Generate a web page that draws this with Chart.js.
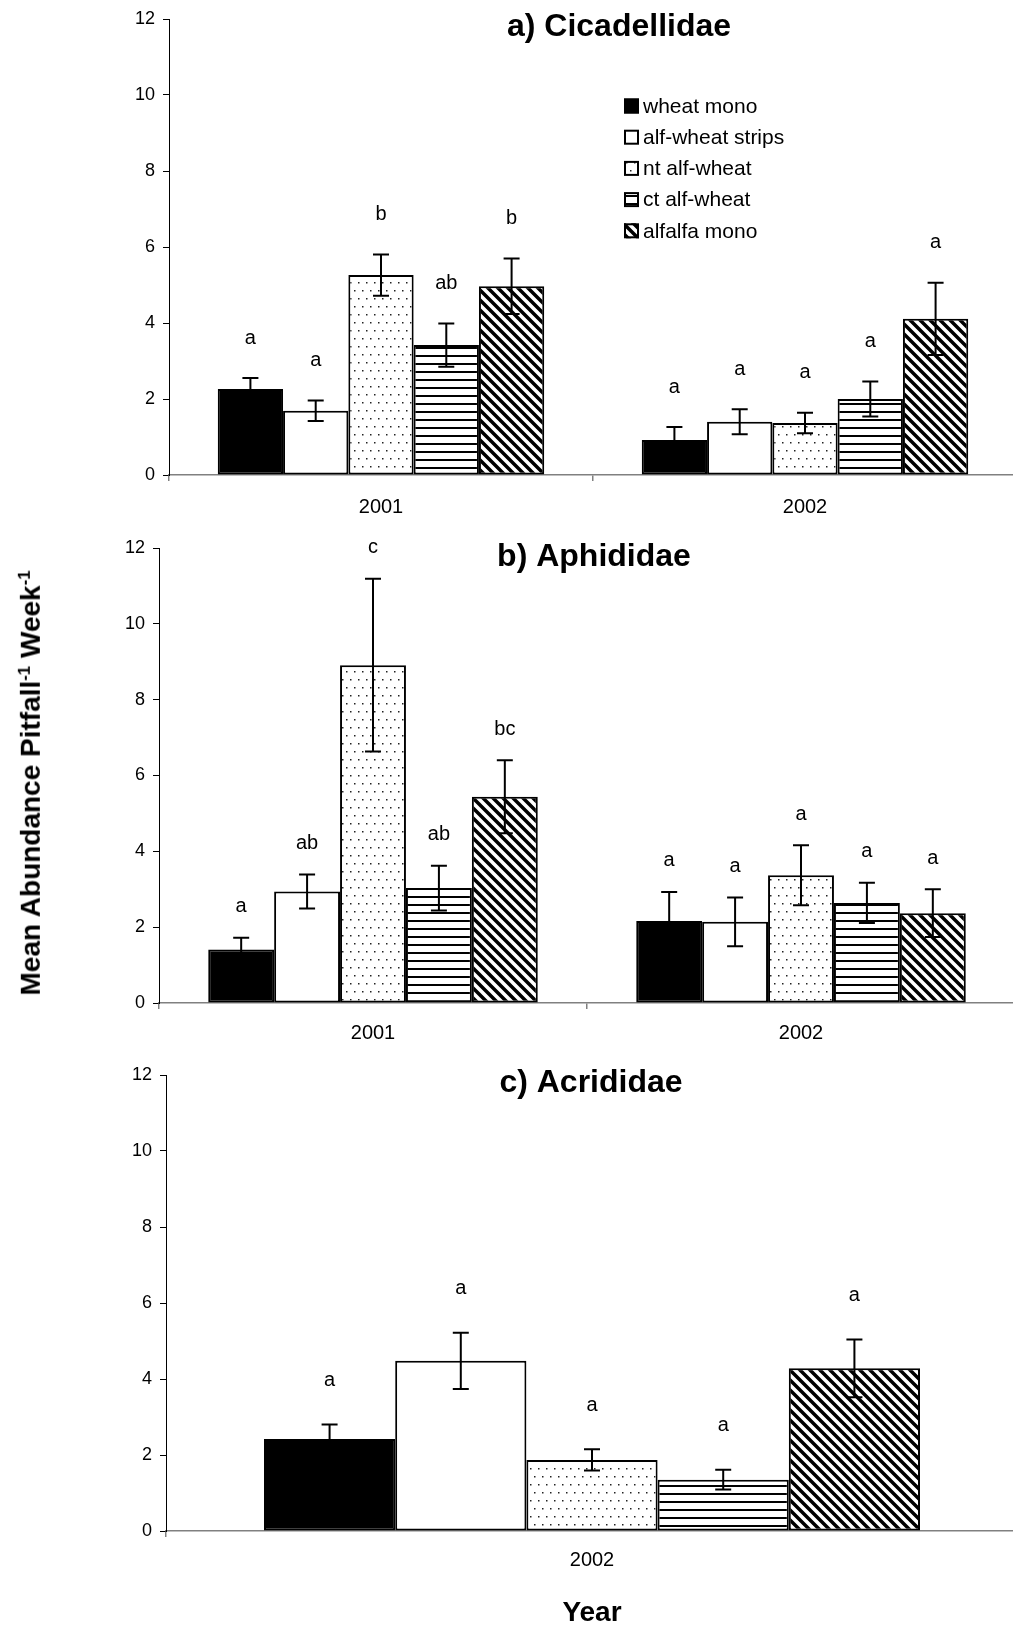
<!DOCTYPE html>
<html lang="en">
<head>
<meta charset="UTF-8">
<title>Mean Abundance Pitfall-1 Week-1</title>
<script src="https://cdn.jsdelivr.net/npm/chart.js"></script>
<style>
    body { margin: 0; background: #fff; }
    #page { position: relative; width: 1013px; height: 1630px; overflow: hidden; }
    #page canvas { position: absolute; left: 0; }
    #ytitle {
        position: absolute; left: 31px; top: 783px;
        transform: translate(-50%, -50%) rotate(-90deg);
        white-space: nowrap;
        font: bold 28px 'Liberation Sans', Arial, sans-serif;
        color: #000;
    }
    #ytitle sup { font-size: 60%; }
</style>
</head>
<body>
<div id="page">
    <canvas id="chartA" width="1020" height="525" style="top:0"></canvas>
    <canvas id="chartB" width="1020" height="525" style="top:525px"></canvas>
    <canvas id="chartC" width="1020" height="580" style="top:1050px"></canvas>
    <div id="ytitle">Mean Abundance Pitfall<sup>-1</sup> Week<sup>-1</sup></div>
</div>

<script>
// treatments (one dataset each)
const treatments = ['wheat mono', 'alf-wheat strips', 'nt alf-wheat', 'ct alf-wheat', 'alfalfa mono'];
const yearsAB = ['2001', '2002'];
const yearsC = ['2002'];
const yTicks = [0, 2, 4, 6, 8, 10, 12];

// a) Cicadellidae  [treatment][year]
const cicadMean = [[2.26, 0.92], [1.69, 1.40], [5.26, 1.37], [3.42, 2.00], [4.97, 4.11]];
const cicadErr = [[0.29, 0.34], [0.27, 0.33], [0.54, 0.27], [0.57, 0.46], [0.73, 0.95]];
const cicadLetters = [['a', 'a'], ['a', 'a'], ['b', 'a'], ['ab', 'a'], ['b', 'a']];

// b) Aphididae
const aphidMean = [[1.41, 2.16], [2.94, 2.14], [8.91, 3.37], [3.03, 2.64], [5.44, 2.37]];
const aphidErr = [[0.31, 0.77], [0.45, 0.64], [2.28, 0.79], [0.59, 0.53], [0.96, 0.63]];
const aphidLetters = [['a', 'a'], ['ab', 'a'], ['c', 'a'], ['ab', 'a'], ['bc', 'a']];

// c) Acrididae
const acridMean = [[2.42], [4.48], [1.87], [1.35], [4.28]];
const acridErr = [[0.38], [0.74], [0.28], [0.26], [0.76]];
const acridLetters = [['a'], ['a'], ['a'], ['a'], ['a']];

const FONT = "'Liberation Sans', Arial, sans-serif";
Chart.defaults.font.family = FONT;
Chart.defaults.color = '#000';

function makePattern(w, h, draw) {
    const c = document.createElement('canvas');
    c.width = w;
    c.height = h;
    const g = c.getContext('2d');
    g.fillStyle = '#fff';
    g.fillRect(0, 0, w, h);
    draw(g);
    return c.getContext('2d').createPattern(c, 'repeat');
}

const dots = makePattern(8, 16, g => {
    g.fillStyle = '#222';
    g.fillRect(2, 2, 1.5, 1.5);
    g.fillRect(6, 10, 1.5, 1.5);
});
const hlines = makePattern(8, 8, g => {
    g.fillStyle = '#000';
    g.fillRect(0, 3, 8, 2);
});
const diag = makePattern(10, 10, g => {
    g.strokeStyle = '#000';
    g.lineWidth = 3.5;
    g.beginPath();
    g.moveTo(-5, -5); g.lineTo(15, 15);
    g.moveTo(-15, -5); g.lineTo(5, 15);
    g.moveTo(5, -5); g.lineTo(25, 15);
    g.stroke();
});
const fills = ['#000', '#fff', dots, hlines, diag];

const overlayPlugin = {
    id: 'overlay',
    afterDatasetsDraw(chart, args, opts) {
        const ctx = chart.ctx;
        const y = chart.scales.y;
        ctx.save();
        ctx.strokeStyle = '#000';
        ctx.lineWidth = 2;
        ctx.fillStyle = '#000';
        ctx.font = '20px ' + FONT;
        ctx.textAlign = 'center';
        ctx.textBaseline = 'middle';
        chart.data.datasets.forEach((ds, i) => {
            chart.getDatasetMeta(i).data.forEach((bar, j) => {
                const v = ds.data[j];
                const e = opts.errors[i][j];
                const top = y.getPixelForValue(v + e);
                const bot = y.getPixelForValue(v - e);
                ctx.beginPath();
                ctx.moveTo(bar.x, top); ctx.lineTo(bar.x, bot);
                ctx.moveTo(bar.x - 8, top); ctx.lineTo(bar.x + 8, top);
                ctx.moveTo(bar.x - 8, bot); ctx.lineTo(bar.x + 8, bot);
                ctx.stroke();
                ctx.fillText(opts.letters[i][j], bar.x, top - opts.letterGap);
            });
        });
        // panel title
        ctx.font = 'bold 32px ' + FONT;
        ctx.fillText(opts.title, opts.titleX, opts.titleY);
        // legend
        if (opts.legend) {
            ctx.font = '21px ' + FONT;
            ctx.textAlign = 'left';
            chart.data.datasets.forEach((ds, i) => {
                const cy = opts.legend.y + i * opts.legend.step;
                ctx.fillStyle = ds.backgroundColor;
                ctx.fillRect(opts.legend.x, cy - 7.5, 15, 15);
                ctx.lineWidth = 2;
                ctx.strokeRect(opts.legend.x + 1, cy - 6.5, 13, 13);
                ctx.fillStyle = '#000';
                ctx.fillText(ds.label, opts.legend.x + 19, cy + 1);
            });
        }
        ctx.restore();
    }
};

function buildChart(id, labels, means, errs, letters, cfg) {
    return new Chart(document.getElementById(id), {
        type: 'bar',
        data: {
            labels: labels,
            datasets: treatments.map((t, i) => ({
                label: t,
                data: means[i],
                backgroundColor: fills[i],
                borderColor: '#000',
                borderWidth: 2,
                borderSkipped: false,
                categoryPercentage: 0.77,
                barPercentage: 1.0
            }))
        },
        options: {
            responsive: false,
            animation: false,
            devicePixelRatio: 1,
            layout: { padding: { left: 0, top: cfg.top, right: cfg.right, bottom: 0 } },
            plugins: {
                legend: { display: false },
                tooltip: { enabled: false },
                overlay: {
                    errors: errs,
                    letters: letters,
                    letterGap: cfg.letterGap,
                    title: cfg.title,
                    titleX: cfg.titleX,
                    titleY: cfg.titleY,
                    legend: cfg.legend
                }
            },
            scales: {
                x: {
                    afterFit: s => { s.height = cfg.xHeight; },
                    grid: { drawOnChartArea: false, tickLength: 6, color: '#808080', lineWidth: 1.5 },
                    border: { color: '#808080', width: 1.5 },
                    ticks: { font: { size: 20 }, padding: cfg.xPad, color: '#000' },
                    title: cfg.xTitle ? {
                        display: true, text: cfg.xTitle, font: { size: 28, weight: 'bold' },
                        color: '#000', padding: { top: 0, bottom: 0 }
                    } : { display: false }
                },
                y: {
                    min: 0,
                    max: 12,
                    afterFit: s => { s.width = cfg.yWidth; },
                    afterBuildTicks: s => { s.ticks = yTicks.map(v => ({ value: v })); },
                    grid: { drawOnChartArea: false, tickLength: 6, color: '#000', lineWidth: 1 },
                    border: { color: '#000', width: 1 },
                    ticks: { font: { size: 18 }, padding: 8, color: '#000' }
                }
            }
        },
        plugins: [overlayPlugin]
    });
}

buildChart('chartA', yearsAB, cicadMean, cicadErr, cicadLetters, {
    top: 19, right: 3, xHeight: 50, xPad: 14, yWidth: 169, letterGap: 40,
    title: 'a) Cicadellidae', titleX: 619, titleY: 27,
    legend: { x: 624, y: 106, step: 31.2 }
});
buildChart('chartB', yearsAB, aphidMean, aphidErr, aphidLetters, {
    top: 23, right: 5, xHeight: 47, xPad: 12, yWidth: 159, letterGap: 31,
    title: 'b) Aphididae', titleX: 594, titleY: 32
});
buildChart('chartC', yearsC, acridMean, acridErr, acridLetters, {
    top: 25, right: 2, xHeight: 99, xPad: 11, yWidth: 166, letterGap: 44,
    title: 'c) Acrididae', titleX: 591, titleY: 33, xTitle: 'Year'
});
</script>
</body>
</html>
